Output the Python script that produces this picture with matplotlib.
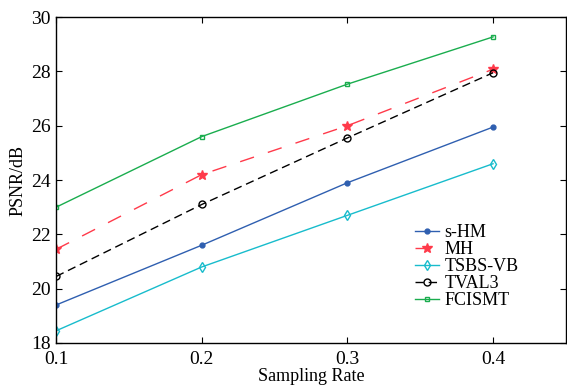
import matplotlib
matplotlib.use("Agg")
import matplotlib.pyplot as plt

plt.rcParams['font.family'] = ['Liberation Serif', 'DejaVu Serif']

# Data
rates = [0.1, 0.2, 0.3, 0.4]
s_hm = [19.4, 21.6, 23.9, 25.95]
mh = [21.45, 24.2, 26.0, 28.08]
tsbs_vb = [18.45, 20.8, 22.7, 24.6]
tval3 = [20.45, 23.1, 25.55, 27.95]
fcismt = [23.0, 25.6, 27.53, 29.27]

fig = plt.figure(figsize=(5.67, 3.88), dpi=100)
ax = fig.add_axes([0.099, 0.116, 0.899, 0.84])

ax.plot(rates, s_hm, color='#2f5fb0', marker='o', markersize=3.5, lw=1, label='s-HM')
ax.plot(rates, mh, color='#ff3a4a', marker='*', markersize=7, lw=1,
        dashes=(10.5, 10.5), label='MH')
ax.plot(rates, tsbs_vb, color='#18bccc', marker='d', markersize=5, lw=1,
        markerfacecolor='none', label='TSBS-VB')
ax.plot(rates, tval3, color='black', marker='o', markersize=5, lw=1,
        markerfacecolor='none', dashes=(6, 3.5), label='TVAL3')
ax.plot(rates, fcismt, color='#1aad4e', marker='s', markersize=3.5, lw=1,
        markerfacecolor='none', label='FCISMT')

ax.set_xlim(0.1, 0.45)
ax.set_ylim(18, 30)
ax.set_xticks([0.1, 0.2, 0.3, 0.4])
ax.set_xticklabels(['0.1', '0.2', '0.3', '0.4'])
ax.set_yticks(range(18, 31, 2))
ax.tick_params(direction='in', top=True, right=True, labelsize=14, length=4)
ax.tick_params(axis='y', pad=4)
ax.tick_params(axis='x', pad=6)
for s in ax.spines.values():
    s.set_linewidth(1)

ax.set_xlabel('Sampling Rate', fontsize=13, labelpad=0)
ax.set_ylabel('PSNR/dB', fontsize=13, labelpad=3)

ax.legend(loc='lower left', bbox_to_anchor=(0.68, 0.066), frameon=False,
          fontsize=13, handlelength=1.3, handletextpad=0.3, labelspacing=0.0,
          borderpad=0.2)

fig.savefig('out.png', dpi=100)
